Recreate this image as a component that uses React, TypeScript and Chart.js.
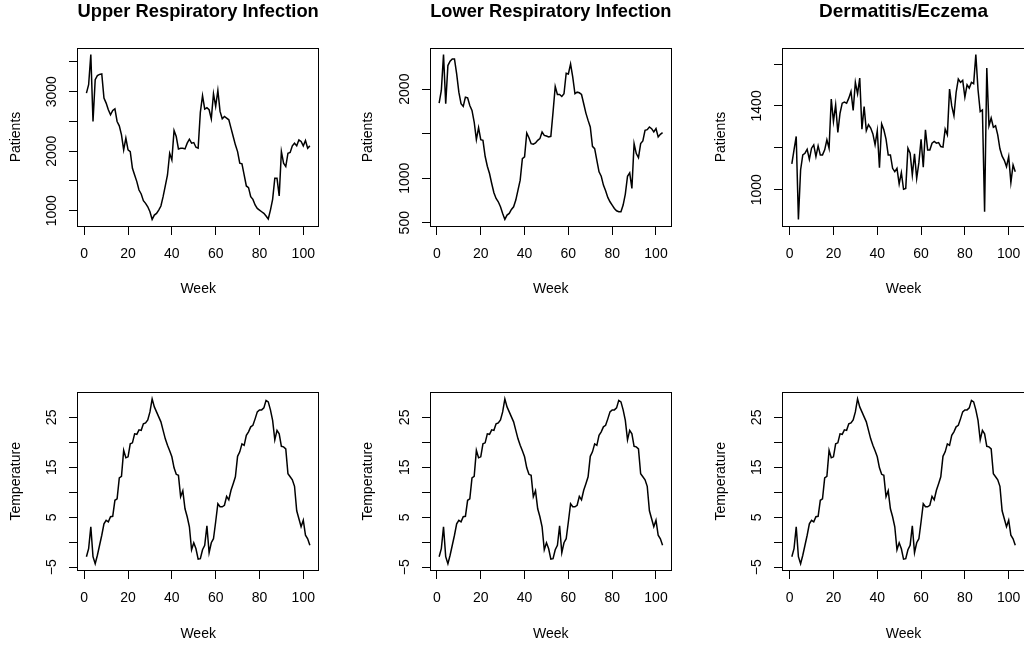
import React, { useEffect, useRef } from 'react';
import { Chart, registerables } from 'chart.js';

Chart.register(...registerables);

// ---------------- data ----------------
const WEEKS: number[] = Array.from({ length: 103 }, (_, i) => i + 1);
const X_TICKS = [0, 20, 40, 60, 80, 100];

const URI = [
  2977, 3118, 3624, 2500, 3202, 3270, 3292, 3298, 2893, 2809,
  2697, 2612, 2685, 2713, 2500, 2427, 2275, 2022, 2219, 2022,
  1994, 1713, 1601, 1489, 1348, 1281, 1169, 1124, 1067, 983,
  854, 927, 955, 1011, 1079, 1236, 1416, 1601, 1966, 1854,
  2348, 2247, 2039, 2051, 2051, 2039, 2135, 2202, 2135, 2146,
  2067, 2051, 2652, 2933, 2708, 2730, 2697, 2545, 2966, 2753,
  3022, 2669, 2545, 2584, 2556, 2528, 2388, 2247, 2107, 1994,
  1798, 1787, 1601, 1416, 1388, 1236, 1191, 1096, 1039, 1011,
  983, 955, 910, 860, 1011, 1191, 1545, 1545, 1247, 1994,
  1798, 1742, 1966, 1978, 2090, 2135, 2090, 2191, 2163, 2090,
  2180, 2051, 2090,
];
const URI_TICKS = [1000, 1500, 2000, 2500, 3000, 3500];
const URI_LABELS = [1000, 2000, 3000];

const LRI = [
  1843, 1985, 2388, 1836, 2265, 2313, 2339, 2339, 2171, 1966,
  1836, 1806, 1910, 1903, 1817, 1761, 1631, 1433, 1567, 1433,
  1425, 1246, 1134, 1052, 940, 836, 772, 735, 679, 604,
  537, 586, 604, 649, 679, 754, 866, 978, 1220, 1239,
  1507, 1455, 1388, 1381, 1395, 1425, 1444, 1519, 1481, 1474,
  1463, 1470, 1742, 2030, 1940, 1940, 1918, 1948, 2179, 2171,
  2283, 2134, 1948, 1966, 1959, 1940, 1836, 1731, 1649, 1575,
  1358, 1332, 1201, 1071, 1022, 922, 858, 784, 735, 698,
  660, 634, 623, 623, 698, 821, 1022, 1060, 884, 1388,
  1276, 1231, 1388, 1418, 1537, 1545, 1575, 1556, 1519, 1556,
  1463, 1493, 1511,
];
const LRI_TICKS = [500, 1000, 1500, 2000];
const LRI_LABELS = [500, 1000, 2000];

const DERM = [
  1123, 1190, 1254, 858, 1094, 1166, 1174, 1193, 1145, 1198,
  1214, 1158, 1209, 1166, 1166, 1190, 1238, 1198, 1433, 1326,
  1405, 1273, 1365, 1413, 1418, 1413, 1437, 1469, 1378, 1512,
  1458, 1533, 1289, 1397, 1282, 1310, 1294, 1266, 1214, 1281,
  1105, 1314, 1286, 1241, 1166, 1166, 1102, 1086, 1102, 1027,
  1081, 1002, 1006, 1198, 1174, 1070, 1171, 1054, 1129, 1241,
  1107, 1286, 1190, 1190, 1222, 1230, 1222, 1225, 1206, 1203,
  1289, 1262, 1480, 1400, 1353, 1464, 1528, 1512, 1522, 1442,
  1501, 1485, 1512, 1506, 1645, 1477, 1373, 1381, 895, 1581,
  1305, 1342, 1298, 1305, 1262, 1195, 1160, 1140, 1110, 1158,
  1034, 1118, 1086,
];
const DERM_TICKS = [1000, 1200, 1400, 1600];
const DERM_LABELS = [1000, 1400];

const TEMP = [
  -2.9, -1.3, 3.1, -2.9, -4.3, -2.6, -0.6, 1.4, 3.7, 4.4,
  4.1, 5.1, 5.2, 8.4, 8.7, 12.9, 13.2, 18.4, 16.9, 17.1,
  19.7, 19.9, 21.7, 21.6, 22.5, 22.4, 23.7, 23.9, 24.5, 26.1,
  28.7, 27.1, 26.1, 25.1, 24.1, 22.4, 20.7, 19.4, 18.3, 17.1,
  14.9, 13.6, 13.4, 9.1, 10.3, 6.7, 5.1, 3.1, -1.5, -0.1,
  -1.3, -3.4, -3.3, -1.5, -0.6, 3.3, -2.1, -0.1, 0.7, 4.1,
  7.7, 7.1, 7.1, 7.4, 9.2, 8.5, 10.4, 11.7, 13.1, 17.2,
  18.1, 19.7, 19.4, 21.4, 22.1, 23.1, 23.4, 24.7, 26.1, 26.5,
  26.5, 26.9, 28.4, 28.1, 26.5, 24.4, 20.5, 22.4, 21.7, 19.2,
  19.1, 18.7, 13.7, 13.1, 12.5, 11.2, 6.3, 4.7, 3.1, 4.4,
  1.4, 0.7, -0.6,
];
const TEMP_TICKS = [-5, 0, 5, 10, 15, 20, 25];
const TEMP_LABELS = [-5, 5, 15, 25];

// ---------------- layout ----------------
const FONT = '"Liberation Sans", Arial, Helvetica, sans-serif';
const BOX_W = 241.3;
const BOX_H = 178;
const Y_AXIS_W = 77.5;
const TOP_SPACE = 48;
const X_AXIS_H = 80;
const CANVAS_W = 397;
const CANVAS_H = 312;

const snap = (v: number) => Math.floor(v) + 0.5;

const rFrame = {
  id: 'rFrame',
  afterDraw(chart: any) {
    const { ctx, chartArea: a } = chart;
    const xs = chart.scales.x;
    const ys = chart.scales.y;
    ctx.save();
    ctx.strokeStyle = '#000';
    ctx.lineWidth = 1;
    const l = snap(a.left), t = snap(a.top), r = snap(a.right), b = snap(a.bottom);
    ctx.strokeRect(l, t, r - l, b - t);
    ctx.beginPath();
    for (const tk of xs.ticks) {
      const p = snap(xs.getPixelForValue(tk.value));
      ctx.moveTo(p, b);
      ctx.lineTo(p, b + 8.5);
    }
    for (const tk of ys.ticks) {
      const p = snap(ys.getPixelForValue(tk.value));
      ctx.moveTo(l, p);
      ctx.lineTo(l - 8.5, p);
    }
    ctx.stroke();
    ctx.restore();
  },
};

const fmt = (v: number) => (v < 0 ? '\u2212' + Math.abs(v) : String(v));

type PanelProps = {
  title?: string;
  yTitle: string;
  values: number[];
  yTicks: number[];
  yLabels: number[];
  boxLeft: number;
  boxTop: number;
};

function Panel({ title, yTitle, values, yTicks, yLabels, boxLeft, boxTop }: PanelProps) {
  const ref = useRef<HTMLCanvasElement>(null);
  const cLeft = Math.floor(boxLeft - Y_AXIS_W);
  const cTop = Math.floor(boxTop - TOP_SPACE);

  useEffect(() => {
    const padL = boxLeft - Y_AXIS_W - cLeft;
    const padT = boxTop - TOP_SPACE - cTop;
    const padR = CANVAS_W - padL - Y_AXIS_W - BOX_W;
    const padB = CANVAS_H - padT - TOP_SPACE - BOX_H - X_AXIS_H;

    const meas = document.createElement('canvas').getContext('2d')!;
    meas.font = `14px ${FONT}`;
    const widest = Math.max(...yLabels.map((v) => meas.measureText(fmt(v)).width));
    const yPad = 25.5 - widest / 2;

    const lo = Math.min(...values), hi = Math.max(...values), rg = hi - lo;
    const wLo = Math.min(...WEEKS), wHi = Math.max(...WEEKS), wr = wHi - wLo;

    const font14 = { family: FONT, size: 14, lineHeight: 1.2 };

    const chart = new Chart(ref.current!, {
      type: 'line',
      data: {
        datasets: [
          {
            data: WEEKS.map((w, i) => ({ x: w, y: values[i] })),
            borderColor: '#000',
            borderWidth: 1.5,
            pointRadius: 0,
            tension: 0,
            fill: false,
          },
        ],
      },
      options: {
        animation: false,
        responsive: false,
        devicePixelRatio: 1,
        events: [],
        layout: {
          autoPadding: false,
          padding: { left: padL, right: padR, top: title ? padT : padT + TOP_SPACE, bottom: padB },
        },
        plugins: {
          legend: { display: false },
          tooltip: { enabled: false },
          title: {
            display: !!title,
            text: title || '',
            fullSize: false,
            color: '#000',
            font: { family: FONT, size: 19, weight: 'bold', lineHeight: 1.2 },
            padding: { top: 0.6, bottom: TOP_SPACE - 22.8 - 0.6 },
          },
        },
        scales: {
          x: {
            type: 'linear',
            min: wLo - 0.04 * wr,
            max: wHi + 0.04 * wr,
            afterBuildTicks: (s: any) => {
              s.ticks = X_TICKS.map((v) => ({ value: v }));
            },
            afterFit: (s: any) => {
              s.height = X_AXIS_H;
              s.paddingLeft = 0;
              s.paddingRight = 0;
              s.paddingTop = 0;
              s.paddingBottom = 0;
            },
            grid: { display: false, drawTicks: false },
            border: { display: false },
            ticks: {
              autoSkip: false,
              maxRotation: 0,
              minRotation: 0,
              padding: 19.6,
              color: '#000',
              font: font14,
              callback: (v: any) => String(v),
            },
            title: {
              display: true,
              text: 'Week',
              color: '#000',
              font: font14,
              padding: { top: 0, bottom: X_AXIS_H - 63.5 - 8.4 },
            },
          },
          y: {
            type: 'linear',
            min: lo - 0.04 * rg,
            max: hi + 0.04 * rg,
            afterBuildTicks: (s: any) => {
              s.ticks = yTicks.map((v) => ({ value: v }));
            },
            afterFit: (s: any) => {
              s.width = Y_AXIS_W;
              s.paddingLeft = 0;
              s.paddingRight = 0;
              s.paddingTop = 0;
              s.paddingBottom = 0;
            },
            grid: { display: false, drawTicks: false },
            border: { display: false },
            ticks: {
              autoSkip: false,
              minRotation: 90,
              maxRotation: 90,
              crossAlign: 'center',
              padding: yPad,
              color: '#000',
              font: font14,
              callback: (v: any) => (yLabels.includes(Number(v)) ? fmt(Number(v)) : ''),
            },
            title: {
              display: true,
              text: yTitle,
              color: '#000',
              font: font14,
              padding: { top: 7.3, bottom: 0 },
            },
          },
        },
      } as any,
      plugins: [rFrame],
    });
    return () => chart.destroy();
  }, []);

  return (
    <canvas
      ref={ref}
      width={CANVAS_W}
      height={CANVAS_H}
      style={{ position: 'absolute', left: cLeft, top: cTop, display: 'block' }}
    />
  );
}

const COL_LEFTS = [77.5, 430.2, 782.9];
const ROW_TOPS = [48, 392.3];

export default function App() {
  return (
    <div
      style={{
        position: 'fixed',
        left: 0,
        top: 0,
        width: 1024,
        height: 645,
        overflow: 'hidden',
        background: '#fff',
      }}
    >
      <Panel title="Upper Respiratory Infection" yTitle="Patients" values={URI} yTicks={URI_TICKS} yLabels={URI_LABELS} boxLeft={COL_LEFTS[0]} boxTop={ROW_TOPS[0]} />
      <Panel title="Lower Respiratory Infection" yTitle="Patients" values={LRI} yTicks={LRI_TICKS} yLabels={LRI_LABELS} boxLeft={COL_LEFTS[1]} boxTop={ROW_TOPS[0]} />
      <Panel title="Dermatitis/Eczema" yTitle="Patients" values={DERM} yTicks={DERM_TICKS} yLabels={DERM_LABELS} boxLeft={COL_LEFTS[2]} boxTop={ROW_TOPS[0]} />
      <Panel yTitle="Temperature" values={TEMP} yTicks={TEMP_TICKS} yLabels={TEMP_LABELS} boxLeft={COL_LEFTS[0]} boxTop={ROW_TOPS[1]} />
      <Panel yTitle="Temperature" values={TEMP} yTicks={TEMP_TICKS} yLabels={TEMP_LABELS} boxLeft={COL_LEFTS[1]} boxTop={ROW_TOPS[1]} />
      <Panel yTitle="Temperature" values={TEMP} yTicks={TEMP_TICKS} yLabels={TEMP_LABELS} boxLeft={COL_LEFTS[2]} boxTop={ROW_TOPS[1]} />
    </div>
  );
}
